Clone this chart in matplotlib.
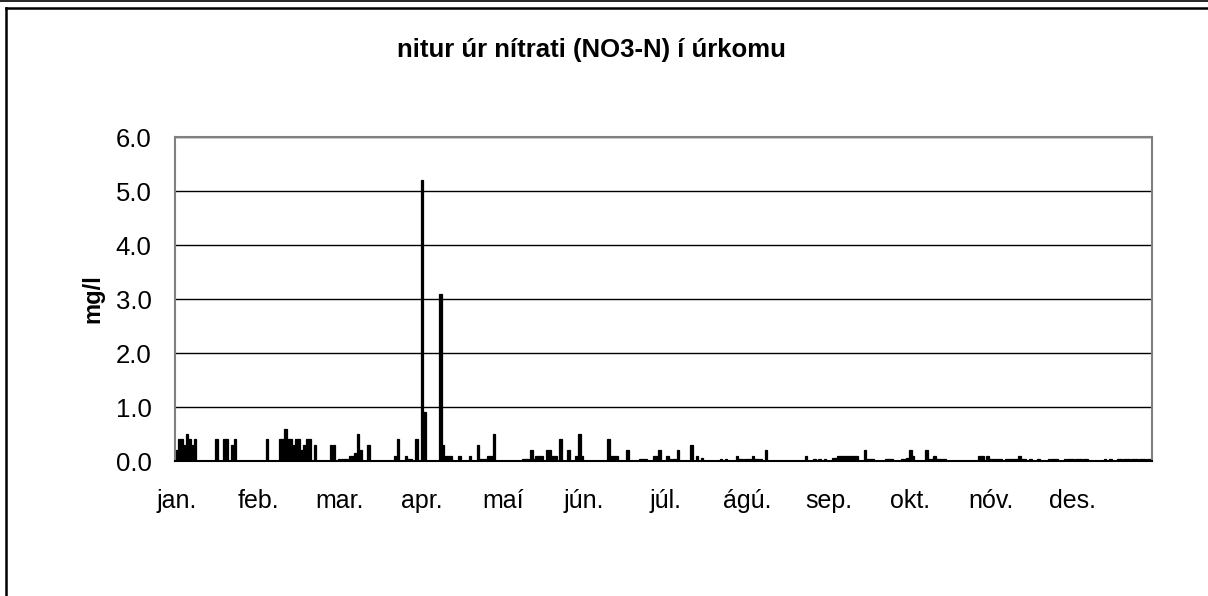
import numpy as np
import matplotlib
matplotlib.use("Agg")
import matplotlib.pyplot as plt
from matplotlib.lines import Line2D

plt.rcParams['font.family'] = ['Liberation Sans', 'DejaVu Sans']

# ---------------- data (day of year, mg/l) ----------------
days = [0, 1, 2, 3, 4, 5, 6, 7, 15, 18, 19, 21, 22, 34,
        39, 40, 41, 42, 43, 44, 45, 46, 47, 48, 49, 50, 52, 58, 59,
        61, 62, 63, 64, 65, 66, 67, 68, 69, 72, 82, 83, 86, 87, 88, 90,
        92, 93, 99, 100, 101, 102, 103, 106, 110, 113, 114, 115, 116, 117, 118, 119,
        130, 131, 132, 133, 134, 135, 136, 137, 139, 140, 141, 142, 144, 147, 150, 151, 152,
        162, 163, 164, 165, 169, 174, 175, 176, 179, 180, 181,
        184, 185, 186, 187, 188, 193, 195, 197, 204, 206, 210, 211, 212, 213, 214,
        215, 216, 217, 218, 219, 221, 236, 239, 241, 243,
        246, 247, 248, 249, 250, 251, 252, 253, 254, 255, 258, 259, 260, 261, 266, 267, 268, 272, 273,
        274, 275, 276, 281, 282, 283, 284, 285, 286, 287, 288,
        301, 302, 304, 305, 306, 307, 308, 309, 311, 312, 313, 314, 315, 316, 317, 318, 320, 323,
        327, 328, 329, 330, 333, 334, 335, 336, 337, 338, 339, 340, 341,
        348, 350, 353, 354, 355, 356, 357, 358, 359, 360, 361, 362, 363, 364, 365]
vals = [0.2, 0.4, 0.4, 0.3, 0.5, 0.4, 0.3, 0.4, 0.4, 0.4, 0.4, 0.3, 0.4, 0.4,
        0.4, 0.4, 0.6, 0.4, 0.4, 0.3, 0.4, 0.4, 0.2, 0.3, 0.4, 0.4, 0.3, 0.3, 0.3,
        0.03, 0.03, 0.03, 0.03, 0.1, 0.1, 0.15, 0.5, 0.2, 0.3, 0.1, 0.4, 0.1, 0.03, 0.03, 0.4,
        5.2, 0.9, 3.1, 0.3, 0.1, 0.1, 0.1, 0.1, 0.1, 0.3, 0.03, 0.03, 0.03, 0.1, 0.1, 0.5,
        0.03, 0.03, 0.03, 0.2, 0.03, 0.1, 0.1, 0.1, 0.2, 0.2, 0.1, 0.1, 0.4, 0.2, 0.1, 0.5, 0.1,
        0.4, 0.1, 0.1, 0.1, 0.2, 0.03, 0.03, 0.03, 0.1, 0.1, 0.2,
        0.1, 0.03, 0.03, 0.03, 0.2, 0.3, 0.1, 0.05, 0.03, 0.03, 0.1, 0.03, 0.03, 0.03, 0.03,
        0.03, 0.1, 0.03, 0.03, 0.03, 0.2, 0.1, 0.03, 0.03, 0.03,
        0.05, 0.05, 0.1, 0.1, 0.1, 0.1, 0.1, 0.1, 0.1, 0.1, 0.2, 0.03, 0.03, 0.03, 0.03, 0.03, 0.03, 0.03, 0.03,
        0.05, 0.2, 0.1, 0.2, 0.03, 0.03, 0.1, 0.03, 0.03, 0.03, 0.03,
        0.1, 0.1, 0.1, 0.03, 0.03, 0.03, 0.03, 0.03, 0.03, 0.03, 0.03, 0.03, 0.03, 0.1, 0.03, 0.03, 0.03, 0.03,
        0.03, 0.03, 0.03, 0.03, 0.03, 0.03, 0.03, 0.03, 0.03, 0.03, 0.03, 0.03, 0.03,
        0.03, 0.03, 0.03, 0.03, 0.03, 0.03, 0.03, 0.03, 0.03, 0.03, 0.03, 0.03, 0.03, 0.03, 0.03]

months = ['jan.', 'feb.', 'mar.', 'apr.', 'maí', 'jún.', 'júl.', 'ágú.', 'sep.', 'okt.', 'nóv.', 'des.']
title = 'nitur úr nítrati (NO3-N) í úrkomu'

# ---------------- plot ----------------
fig = plt.figure(figsize=(12.08, 5.96), dpi=100)
ax = fig.add_axes([0.1449, 0.2265, 0.8087, 0.5436])

ax.bar(days, vals, width=0.95, color='black', edgecolor='black', linewidth=0.9, align='edge')

ax.set_xlim(0, 366)
ax.set_ylim(0, 6)
ax.set_yticks(np.arange(0, 6.1, 1.0))
ax.set_yticklabels([f'{v:.1f}' for v in np.arange(0, 6.1, 1.0)], fontsize=18.5)
ax.set_xticks([0.8 + i * 30.5 for i in range(12)])
ax.set_xticklabels(months, fontsize=18)
ax.tick_params(axis='both', length=0)
ax.tick_params(axis='y', pad=17)
ax.tick_params(axis='x', pad=20)

ax.yaxis.grid(True, color='black', linewidth=1.0)
ax.set_axisbelow(True)
for s in ax.spines.values():
    s.set_color('#808080')
    s.set_linewidth(1.5)
ax.spines['bottom'].set_color('black')

ax.set_ylabel('mg/l', fontsize=17, fontweight='bold', labelpad=8)
fig.text(591 / 1208, 1 - 50 / 596, title, fontsize=18.5, fontweight='bold',
         ha='center', va='center')

# outer chart border (cropped on right and bottom)
W, H = 1208, 596
fig.add_artist(Line2D([0, 1], [1 - 0.5 / H, 1 - 0.5 / H], color='black', linewidth=1.2,
                      transform=fig.transFigure))
fig.add_artist(Line2D([5.5 / W, 1], [1 - 7.5 / H, 1 - 7.5 / H], color='black', linewidth=1.8,
                      transform=fig.transFigure))
fig.add_artist(Line2D([5.5 / W, 5.5 / W], [0, 1 - 7.5 / H], color='black', linewidth=1.8,
                      transform=fig.transFigure))

fig.savefig('out.png', dpi=100)
